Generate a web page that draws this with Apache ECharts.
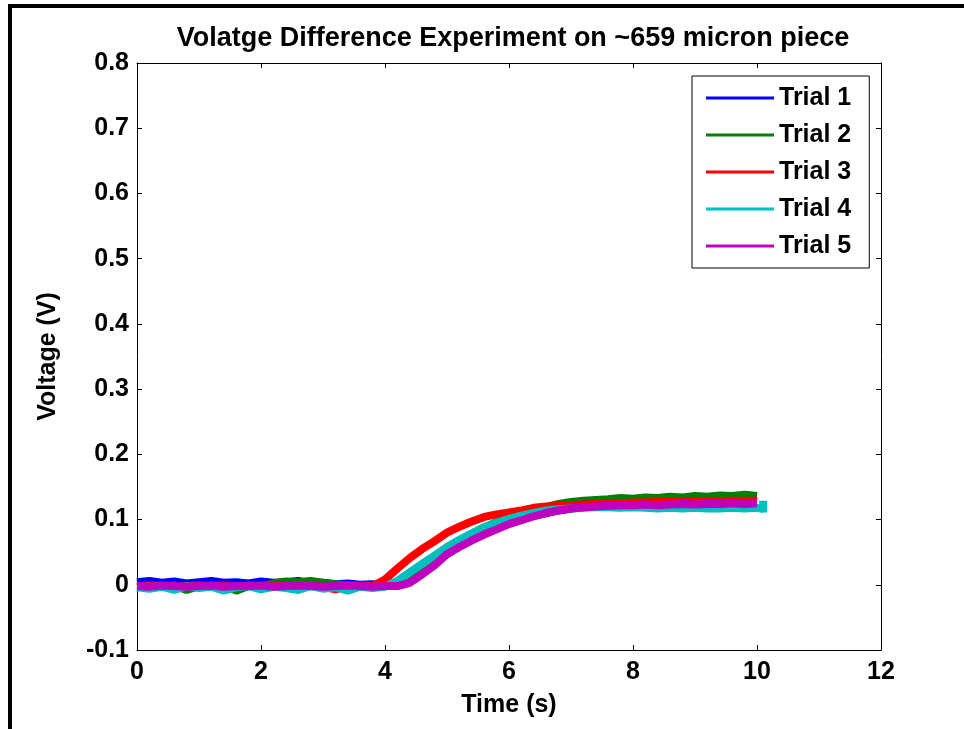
<!DOCTYPE html>
<html>
<head>
<meta charset="utf-8">
<script src="https://cdn.jsdelivr.net/npm/echarts@6/dist/echarts.min.js"></script>
<style>
html,body{margin:0;padding:0;background:#fff;}
#chart{width:964px;height:729px;}
</style>
</head>
<body>
<div id="chart"></div>
<script>
// ---- data ----
var seriesNames = ['Trial 1', 'Trial 2', 'Trial 3', 'Trial 4', 'Trial 5'];
var seriesColors = ['#0000ff', '#008000', '#ff0000', '#00bfbf', '#bf00bf'];
var xTicks = [0, 2, 4, 6, 8, 10, 12];
var yTicks = [-0.1, 0, 0.1, 0.2, 0.3, 0.4, 0.5, 0.6, 0.7, 0.8];

var time = [0, 0.2, 0.4, 0.6, 0.8, 1.0, 1.2, 1.4, 1.6, 1.8, 2.0, 2.2, 2.4, 2.6, 2.8, 3.0, 3.2, 3.4, 3.6, 3.8,
            4.0, 4.2, 4.4, 4.6, 4.8, 5.0, 5.2, 5.4, 5.6, 5.8, 6.0, 6.2, 6.4, 6.6, 6.8, 7.0, 7.2, 7.4, 7.6, 7.8,
            8.0, 8.2, 8.4, 8.6, 8.8, 9.0, 9.2, 9.4, 9.6, 9.8, 10.0];

var trial1 = [0.004, 0.006, 0.003, 0.005, 0.002, 0.004, 0.006, 0.003, 0.004, 0.002, 0.005, 0.003, 0.004, 0.006, 0.002, 0.003, 0.001, 0.002, 0.000, 0.001, 0.000, -0.001,
              0.004, 0.018, 0.032, 0.047, 0.060, 0.071, 0.081, 0.089, 0.096, 0.101, 0.106, 0.110, 0.114, 0.117, 0.119, 0.121, 0.122, 0.124, 0.125, 0.126, 0.127, 0.128, 0.129, 0.130, 0.131, 0.131, 0.132, 0.134, 0.136];
var trial2 = [-0.003, -0.002, -0.004, -0.001, -0.008, -0.002, -0.003, -0.001, -0.009, -0.002, -0.003, 0.002, 0.005, 0.004, 0.006, 0.003, 0.001, -0.001, -0.002, -0.003, -0.002, -0.001,
              0.010, 0.025, 0.040, 0.054, 0.067, 0.078, 0.088, 0.096, 0.103, 0.109, 0.114, 0.119, 0.124, 0.127, 0.129, 0.130, 0.131, 0.133, 0.132, 0.134, 0.133, 0.135, 0.134, 0.136, 0.135, 0.137, 0.136, 0.138, 0.136];
var trial3 = [-0.003, -0.001, -0.002, -0.004, -0.002, -0.001, -0.003, -0.002, -0.004, -0.001, -0.003, -0.002, -0.001, -0.004, -0.002, -0.003, -0.007, -0.002, -0.001, -0.002,
              0.008, 0.025, 0.041, 0.055, 0.067, 0.080, 0.089, 0.097, 0.104, 0.108, 0.111, 0.114, 0.118, 0.120, 0.121, 0.122, 0.123, 0.124, 0.124, 0.125, 0.126, 0.126, 0.127, 0.127, 0.127, 0.128, 0.128, 0.128, 0.129, 0.129, 0.129];
var trial4 = [-0.004, -0.006, -0.003, -0.008, -0.002, -0.005, -0.003, -0.009, -0.004, -0.002, -0.007, -0.003, -0.005, -0.008, -0.002, -0.006, -0.004, -0.009, -0.003, -0.005, -0.003,
              0.006, 0.019, 0.032, 0.045, 0.058, 0.069, 0.079, 0.088, 0.095, 0.101, 0.106, 0.110, 0.114, 0.116, 0.117, 0.118, 0.119, 0.119, 0.118, 0.119, 0.118, 0.117, 0.118, 0.117, 0.118, 0.117, 0.117, 0.118, 0.117, 0.118];
var trial4TailTime = [10.1, 10.1, 10.1];
var trial4Tail = [0.116, 0.129, 0.111];
var trial5 = [-0.002, -0.003, -0.001, -0.002, -0.003, -0.002, -0.001, -0.003, -0.002, -0.002, -0.001, -0.003, -0.002, -0.001, -0.002, -0.003, -0.002, -0.001, -0.002, -0.003, -0.002, -0.002,
              0.003, 0.016, 0.030, 0.047, 0.058, 0.068, 0.077, 0.085, 0.093, 0.099, 0.105, 0.110, 0.114, 0.117, 0.119, 0.120, 0.121, 0.122, 0.122, 0.123, 0.122, 0.123, 0.124, 0.123, 0.124, 0.124, 0.125, 0.124, 0.125];

// ---- build ----
function pairs(ts, vs) { return ts.map(function (t, i) { return [t, vs[i]]; }); }
var allData = [
  pairs(time, trial1),
  pairs(time, trial2),
  pairs(time, trial3),
  pairs(time, trial4).concat(pairs(trial4TailTime, trial4Tail)),
  pairs(time, trial5)
];

var FONT = '"Liberation Sans", Arial, Helvetica, sans-serif';
var lbl = { fontFamily: FONT, fontWeight: 'bold', fontSize: 25, color: '#000' };

var chart = echarts.init(document.getElementById('chart'), null, { renderer: 'canvas' });

var axisCommon = {
  type: 'value',
  axisLine: { show: true, onZero: false, lineStyle: { color: '#000', width: 1 } },
  axisTick: { show: true, inside: true, length: 5, lineStyle: { color: '#000', width: 1 } },
  splitLine: { show: false }
};

chart.setOption({
  animation: false,
  backgroundColor: '#fff',
  title: {
    text: 'Volatge Difference Experiment on ~659 micron piece',
    left: 508, top: 20, textAlign: 'center',
    textStyle: { fontFamily: FONT, fontWeight: 'bold', fontSize: 27, color: '#000' }
  },
  graphic: [{
    type: 'rect', z: 100,
    shape: { x: 10, y: 6, width: 1200, height: 1200 },
    style: { fill: 'none', stroke: '#000', lineWidth: 4 }
  }],
  grid: { left: 137, right: 83, top: 63, bottom: 79, containLabel: false },
  legend: {
    orient: 'vertical', left: 692, top: 76,
    padding: [9, 18, 9, 14], itemGap: 11,
    icon: 'rect', itemWidth: 68, itemHeight: 3,
    borderColor: '#000', borderWidth: 1, backgroundColor: '#fff',
    textStyle: { fontFamily: FONT, fontWeight: 'bold', fontSize: 25, color: '#000', lineHeight: 26 },
    data: seriesNames
  },
  xAxis: [
    Object.assign({}, axisCommon, {
      position: 'bottom', min: xTicks[0], max: xTicks[xTicks.length - 1], interval: xTicks[1] - xTicks[0],
      axisLabel: Object.assign({ margin: 10 }, lbl),
      name: 'Time (s)', nameLocation: 'middle', nameGap: 43,
      nameTextStyle: { fontFamily: FONT, fontWeight: 'bold', fontSize: 25, color: '#000' }
    }),
    Object.assign({}, axisCommon, {
      position: 'top', min: xTicks[0], max: xTicks[xTicks.length - 1], interval: xTicks[1] - xTicks[0],
      axisLabel: { show: false }
    })
  ],
  yAxis: [
    Object.assign({}, axisCommon, {
      position: 'left', min: yTicks[0], max: yTicks[yTicks.length - 1], interval: 0.1,
      axisLabel: Object.assign({ margin: 8, formatter: function (v) { return String(+v.toFixed(1)); } }, lbl),
      name: 'Voltage (V)', nameLocation: 'middle', nameGap: 76,
      nameTextStyle: { fontFamily: FONT, fontWeight: 'bold', fontSize: 25, color: '#000' }
    }),
    Object.assign({}, axisCommon, {
      position: 'right', min: yTicks[0], max: yTicks[yTicks.length - 1], interval: 0.1,
      axisLabel: { show: false }
    })
  ],
  series: seriesNames.map(function (n, i) {
    return {
      name: n, type: 'line', xAxisIndex: 0, yAxisIndex: 0,
      showSymbol: false, symbol: 'none',
      color: seriesColors[i],
      lineStyle: { color: seriesColors[i], width: 8 },
      data: allData[i]
    };
  })
});
</script>
</body>
</html>
